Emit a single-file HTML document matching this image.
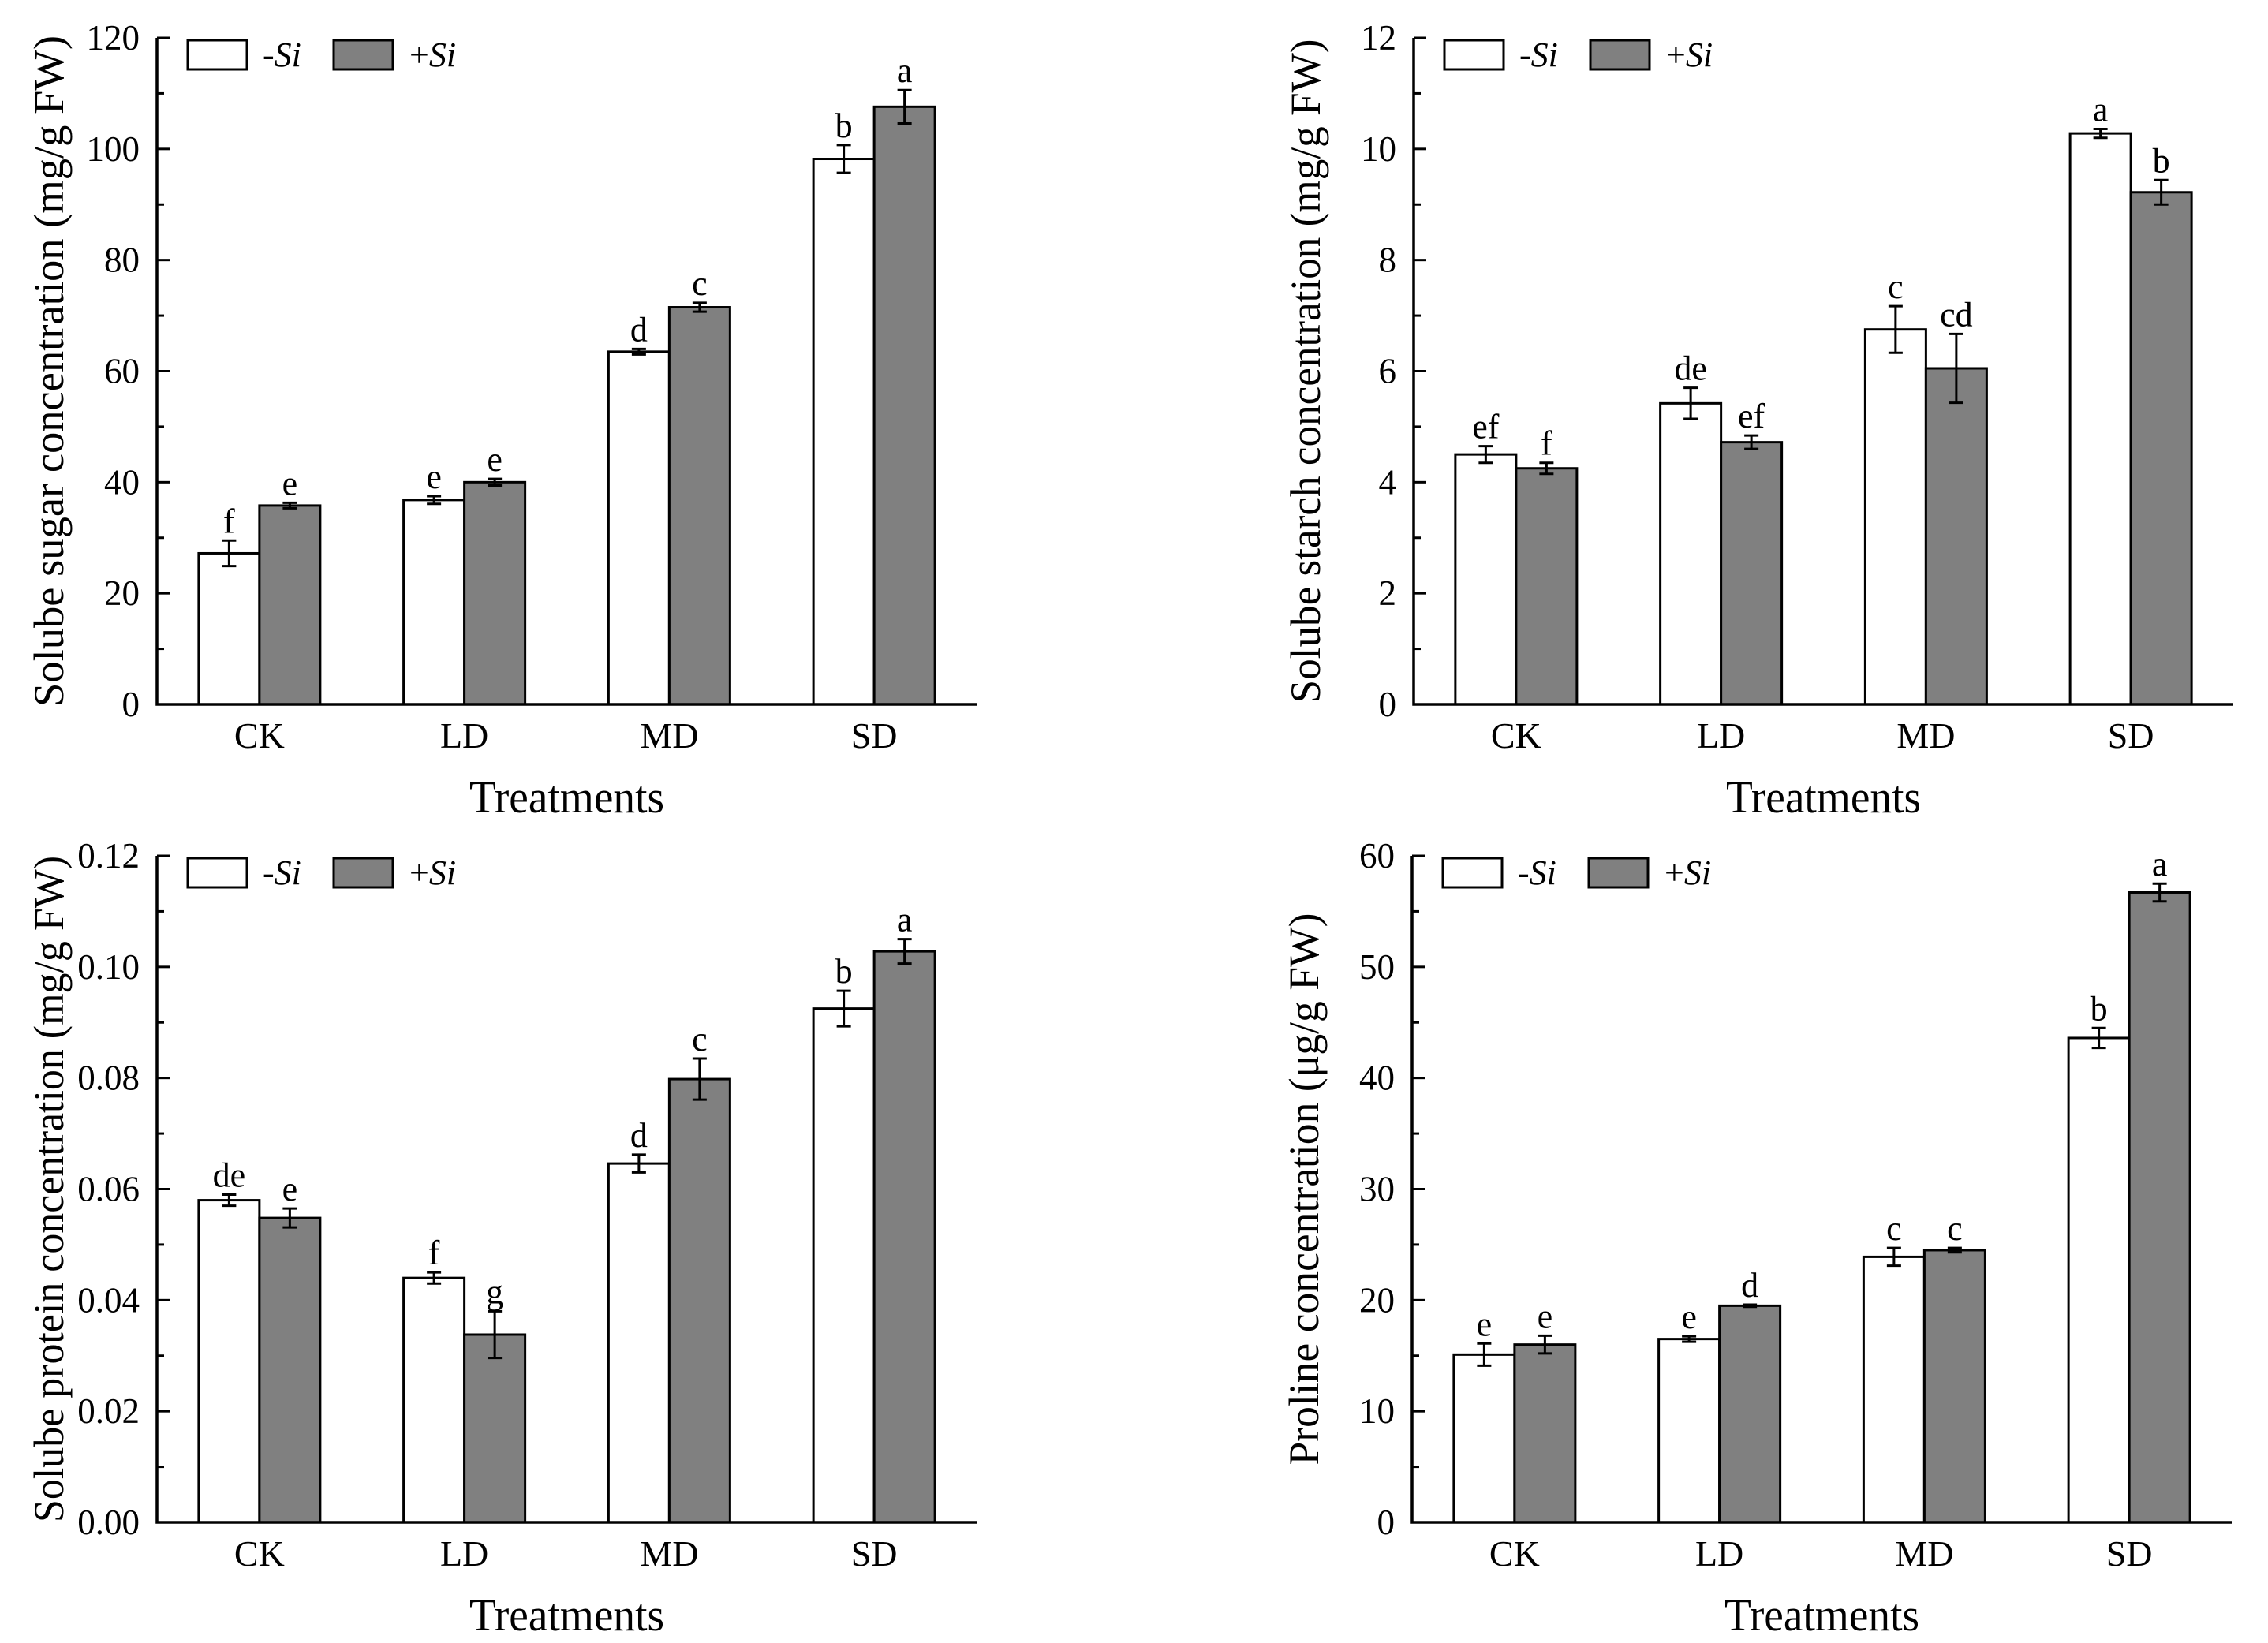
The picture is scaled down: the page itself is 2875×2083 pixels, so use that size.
<!DOCTYPE html>
<html><head><meta charset="utf-8"><style>
html,body{margin:0;padding:0;background:#fff;}
svg{display:block;font-family:"Liberation Serif",serif;}
</style></head><body>
<svg id="fig" width="2875" height="2083" viewBox="0 0 2875 2083" xmlns="http://www.w3.org/2000/svg"></svg>
<script>
const categories = ["CK","LD","MD","SD"];
const series = ["-Si","+Si"];
// Panel A: soluble sugar
const sugarMinus = [27.2, 36.8, 63.5, 98.2];
const sugarPlus = [35.8, 40.0, 71.5, 107.6];
const sugarMinusErr = [2.3, 0.7, 0.5, 2.5];
const sugarPlusErr = [0.5, 0.6, 0.8, 3.0];
const sugarLettersMinus = ["f","e","d","b"];
const sugarLettersPlus = ["e","e","c","a"];
const sugarTicks = [0,20,40,60,80,100,120];
// Panel B: soluble starch
const starchMinus = [4.5, 5.42, 6.75, 10.28];
const starchPlus = [4.25, 4.72, 6.05, 9.22];
const starchMinusErr = [0.15, 0.28, 0.42, 0.08];
const starchPlusErr = [0.1, 0.12, 0.62, 0.22];
const starchLettersMinus = ["ef","de","c","a"];
const starchLettersPlus = ["f","ef","cd","b"];
const starchTicks = [0,2,4,6,8,10,12];
// Panel C: soluble protein
const proteinMinus = [0.058, 0.044, 0.0646, 0.0925];
const proteinPlus = [0.0548, 0.0338, 0.0798, 0.1028];
const proteinMinusErr = [0.001, 0.001, 0.0016, 0.0032];
const proteinPlusErr = [0.0017, 0.0042, 0.0037, 0.0022];
const proteinLettersMinus = ["de","f","d","b"];
const proteinLettersPlus = ["e","g","c","a"];
const proteinTicks = [0,0.02,0.04,0.06,0.08,0.10,0.12];
const proteinTickLabels = ["0.00","0.02","0.04","0.06","0.08","0.10","0.12"];
// Panel D: proline
const prolineMinus = [15.1, 16.5, 23.9, 43.6];
const prolinePlus = [16.0, 19.5, 24.5, 56.7];
const prolineMinusErr = [1.0, 0.25, 0.8, 0.9];
const prolinePlusErr = [0.8, 0.1, 0.2, 0.8];
const prolineLettersMinus = ["e","e","c","b"];
const prolineLettersPlus = ["e","d","c","a"];
const prolineTicks = [0,10,20,30,40,50,60];

const NS = "http://www.w3.org/2000/svg";
const svg = document.getElementById("fig");
function mk(tag, attrs, parent, text){
  const e = document.createElementNS(NS, tag);
  for (const k in attrs) e.setAttribute(k, attrs[k]);
  if (text !== undefined) e.textContent = text;
  parent.appendChild(e);
  return e;
}

function panel(id, ox, oy, title, titleLen, minus, plus, minusErr, plusErr, lm, lp, ticks, tickLabels){
  const g = mk("g", {transform:`translate(${ox},${oy})`}, svg);
  
  
  const x0 = 199, x1 = 1238, y0 = 893, yTop = 48;
  const ymax = ticks[ticks.length-1];
  const yS = v => y0 - (v / ymax) * (y0 - yTop);
  const catW = (x1 - x0) / categories.length;
  const barW = 77;
  const xC = i => x0 + catW * (i + 0.5);

  categories.forEach((c, i) => {
    [[minus, minusErr, lm, "#ffffff", -1], [plus, plusErr, lp, "#808080", 0]].forEach(([vals, errs, lets, fill, off], s) => {
      const bx = xC(i) + off * barW;
      const top = yS(vals[i]);
      const r = mk("rect", {x:bx, y:top, width:barW, height:y0-top, fill:fill, stroke:"#000", "stroke-width":3}, g);
      
      
      const cx = bx + barW/2;
      const eT = yS(vals[i] + errs[i]), eB = yS(vals[i] - errs[i]);
      const eb = mk("path", {d:`M${cx},${eT}V${eB}M${cx-9},${eT}H${cx+9}M${cx-9},${eB}H${cx+9}`, stroke:"#000", "stroke-width":3, fill:"none"}, g);
      
      
      const t = mk("text", {x:cx, y:eT-10, "font-size":44, "text-anchor":"middle"}, g, lets[i]);
      
      
    });
    const tl = mk("text", {x:xC(i), y:y0+55, "font-size":46, "text-anchor":"middle"}, g, c);
    
    
  });

  const ax = mk("path", {d:`M${x0},${yTop}V${y0}H${x1}`, stroke:"#000", "stroke-width":3.5, fill:"none"}, g);
  
  
  ticks.forEach((t, k) => {
    const y = yS(t);
    mk("line", {x1:x0, y1:y, x2:x0+16, y2:y, stroke:"#000", "stroke-width":3}, g);
    if (k < ticks.length-1){
      const ym = yS((t + ticks[k+1]) / 2);
      mk("line", {x1:x0, y1:ym, x2:x0+9, y2:ym, stroke:"#000", "stroke-width":3}, g);
    }
    const lab = mk("text", {x:x0-22, y:y+15, "font-size":45, "text-anchor":"end"}, g, tickLabels ? tickLabels[k] : String(t));
    
    
  });

  const xt = mk("text", {x:(x0+x1)/2, y:1030, "font-size":58, "text-anchor":"middle", textLength:247, lengthAdjust:"spacingAndGlyphs"}, g, "Treatments");
  
  
  const yt = mk("text", {x:0, y:0, "font-size":54, "text-anchor":"middle", textLength:titleLen, lengthAdjust:"spacingAndGlyphs", transform:`translate(80,${(yTop+y0)/2}) rotate(-90)`}, g, title);
  
  

  const lg = mk("g", {}, g);
  
  
  const l1 = mk("rect", {x:238, y:51, width:75, height:37, fill:"#fff", stroke:"#000", "stroke-width":3}, lg);
  
  
  const t1 = mk("text", {x:333, y:84, "font-size":44, "font-style":"italic"}, lg, "-Si");
  
  
  const l2 = mk("rect", {x:423, y:51, width:75, height:37, fill:"#808080", stroke:"#000", "stroke-width":3}, lg);
  
  
  const t2 = mk("text", {x:519, y:84, "font-size":44}, lg);
  
  
  mk("tspan", {}, t2, "+");
  mk("tspan", {"font-style":"italic"}, t2, "Si");
}

panel("sugar", 0, 0, "Solube sugar concentration (mg/g FW)", 851, sugarMinus, sugarPlus, sugarMinusErr, sugarPlusErr, sugarLettersMinus, sugarLettersPlus, sugarTicks, null);
panel("starch", 1593, 0, "Solube starch concentration (mg/g FW)", 842, starchMinus, starchPlus, starchMinusErr, starchPlusErr, starchLettersMinus, starchLettersPlus, starchTicks, null);
panel("protein", 0, 1037, "Solube protein concentration (mg/g FW)", 845, proteinMinus, proteinPlus, proteinMinusErr, proteinPlusErr, proteinLettersMinus, proteinLettersPlus, proteinTicks, proteinTickLabels);
panel("proline", 1591, 1037, "Proline concentration (μg/g FW)", 700, prolineMinus, prolinePlus, prolineMinusErr, prolinePlusErr, prolineLettersMinus, prolineLettersPlus, prolineTicks, null);
</script>
</body></html>
